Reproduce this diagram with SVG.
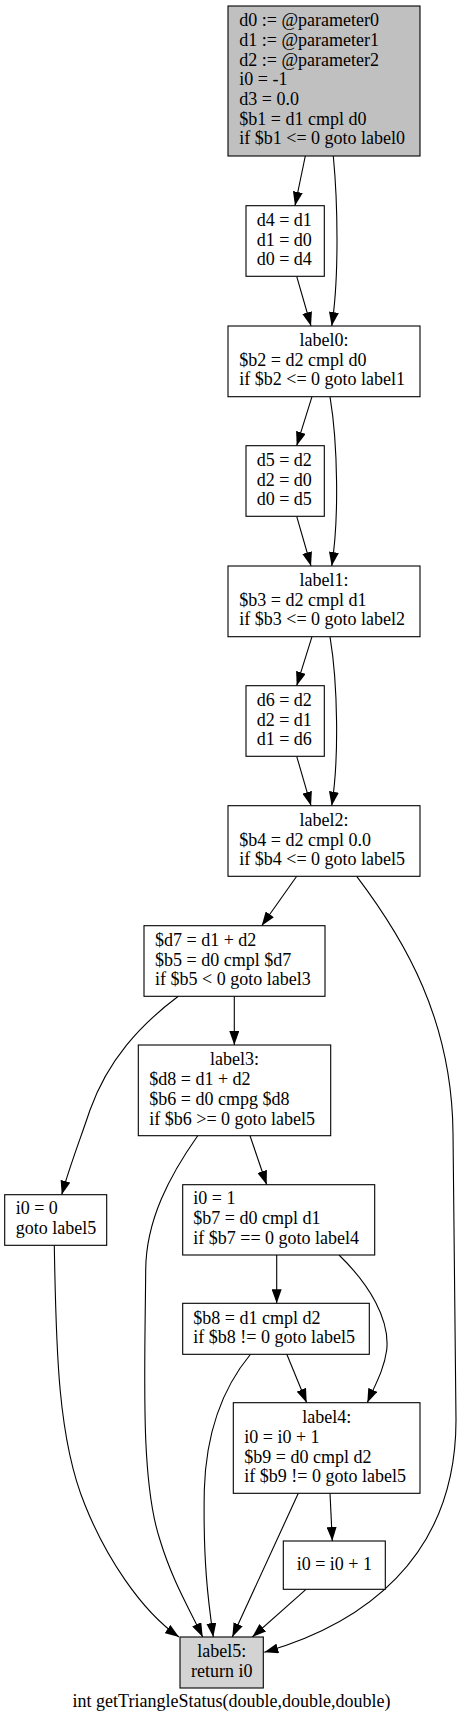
<svg xmlns="http://www.w3.org/2000/svg" width="463" height="1724" viewBox="0 0 463 1724">
<style>
rect{stroke:#000;stroke-width:1.1;fill:#fff}
text{font-family:"Liberation Serif","Times New Roman",serif;font-size:18px;fill:#000}
.c{text-anchor:middle}
.e path{fill:none;stroke:#000;stroke-width:1.1;marker-end:url(#a)}
</style>
<defs>
<marker id="a" markerUnits="userSpaceOnUse" markerWidth="14" markerHeight="10" refX="14" refY="5" orient="auto">
<path d="M0,0 L14,5 L0,10 z" fill="#000"/>
</marker>
</defs>
<rect x="0" y="0" width="463" height="1724" style="fill:#fff;stroke:none"/>
<g class="e">
<path d="M305.3,156 L295,205.7"/>
<path d="M333.3,156 C338,205 339,280 331.7,326"/>
<path d="M296.7,276.3 L311,326"/>
<path d="M312,396.7 L296.7,445.7"/>
<path d="M330,396.7 C338,445 339,520 331.7,566"/>
<path d="M296.7,516.3 L311,566"/>
<path d="M312,636.7 L296.7,685.7"/>
<path d="M330,636.7 C338,685 339,760 331.7,805.7"/>
<path d="M296.7,756.3 L311,805.7"/>
<path d="M296.7,876.3 L261.7,925.7"/>
<path d="M356.7,876.3 C405,940 452,1020 453,1133 L456,1420 C456,1560 360,1625 264.3,1652.3"/>
<path d="M234.3,996.3 L234.3,1045"/>
<path d="M178.3,996.3 C140,1025 108,1060 90,1110 C80,1140 70,1165 61.7,1194.7"/>
<path d="M250,1135.7 L266.7,1184.7"/>
<path d="M197.7,1135.7 C170,1175 146,1220 145.7,1270 C145,1370 140,1480 160,1540 C172,1580 190,1610 202.7,1637"/>
<path d="M276.7,1255 L276.7,1303.3"/>
<path d="M339,1255 C370,1285 390,1320 386.7,1350 C384,1370 375,1385 367.3,1402.7"/>
<path d="M286.7,1354 L306.7,1402.7"/>
<path d="M250.7,1354 C225,1385 206,1430 204.3,1490 C203,1560 208,1600 213.3,1637"/>
<path d="M54.3,1245.3 C56,1350 58,1440 85,1505 C105,1555 140,1610 179,1637"/>
<path d="M298.3,1493.3 L232.3,1637"/>
<path d="M330,1493.3 L332.3,1541"/>
<path d="M306,1589.3 L252.3,1637"/>
</g>
<g id="n0">
<rect x="228" y="6" width="192" height="150" style="fill:#c0c0c0"/>
<text x="239.3" y="26">d0 := @parameter0</text>
<text x="239.3" y="45.7">d1 := @parameter1</text>
<text x="239.3" y="65.5">d2 := @parameter2</text>
<text x="239.3" y="85">i0 = -1</text>
<text x="239.3" y="105">d3 = 0.0</text>
<text x="239.3" y="124.5">$b1 = d1 cmpl d0</text>
<text x="239.3" y="144">if $b1 &lt;= 0 goto label0</text>
</g>
<g id="n1">
<rect x="246" y="205.7" width="78.3" height="70.6"/>
<text x="256.7" y="226">d4 = d1</text>
<text x="256.7" y="245.7">d1 = d0</text>
<text x="256.7" y="265">d0 = d4</text>
</g>
<g id="n2">
<rect x="228" y="326" width="192" height="70.7"/>
<text x="324" y="345.7" class="c">label0:</text>
<text x="239.3" y="365.7">$b2 = d2 cmpl d0</text>
<text x="239.3" y="385">if $b2 &lt;= 0 goto label1</text>
</g>
<g id="n3">
<rect x="246" y="445.7" width="78.3" height="70.6"/>
<text x="256.7" y="466">d5 = d2</text>
<text x="256.7" y="485.7">d2 = d0</text>
<text x="256.7" y="505">d0 = d5</text>
</g>
<g id="n4">
<rect x="228" y="566" width="192" height="70.7"/>
<text x="324" y="585.7" class="c">label1:</text>
<text x="239.3" y="605.7">$b3 = d2 cmpl d1</text>
<text x="239.3" y="625">if $b3 &lt;= 0 goto label2</text>
</g>
<g id="n5">
<rect x="246" y="685.7" width="78.3" height="70.6"/>
<text x="256.7" y="706">d6 = d2</text>
<text x="256.7" y="725.7">d2 = d1</text>
<text x="256.7" y="745">d1 = d6</text>
</g>
<g id="n6">
<rect x="228" y="805.7" width="192" height="70.6"/>
<text x="324" y="825.7" class="c">label2:</text>
<text x="239.3" y="845.7">$b4 = d2 cmpl 0.0</text>
<text x="239.3" y="865">if $b4 &lt;= 0 goto label5</text>
</g>
<g id="n7">
<rect x="144" y="925.7" width="181" height="70.6"/>
<text x="155" y="945.7">$d7 = d1 + d2</text>
<text x="155" y="965.5">$b5 = d0 cmpl $d7</text>
<text x="155" y="985">if $b5 &lt; 0 goto label3</text>
</g>
<g id="n8">
<rect x="138.3" y="1045" width="192.4" height="90.7"/>
<text x="234.5" y="1065" class="c">label3:</text>
<text x="149.3" y="1085">$d8 = d1 + d2</text>
<text x="149.3" y="1105">$b6 = d0 cmpg $d8</text>
<text x="149.3" y="1125">if $b6 &gt;= 0 goto label5</text>
</g>
<g id="n9">
<rect x="4.7" y="1194.7" width="102" height="50.6"/>
<text x="15.7" y="1214.3">i0 = 0</text>
<text x="15.7" y="1234.3">goto label5</text>
</g>
<g id="n10">
<rect x="182.7" y="1184.7" width="192" height="70.3"/>
<text x="193.3" y="1204.3">i0 = 1</text>
<text x="193.3" y="1224.3">$b7 = d0 cmpl d1</text>
<text x="193.3" y="1244.3">if $b7 == 0 goto label4</text>
</g>
<g id="n11">
<rect x="182.7" y="1303.3" width="186.6" height="51"/>
<text x="193.3" y="1324">$b8 = d1 cmpl d2</text>
<text x="193.3" y="1343.3">if $b8 != 0 goto label5</text>
</g>
<g id="n12">
<rect x="233.3" y="1402.7" width="186.7" height="90.6"/>
<text x="326.7" y="1422.7" class="c">label4:</text>
<text x="244.3" y="1442.7">i0 = i0 + 1</text>
<text x="244.3" y="1462.7">$b9 = d0 cmpl d2</text>
<text x="244.3" y="1482.3">if $b9 != 0 goto label5</text>
</g>
<g id="n13">
<rect x="283.3" y="1541" width="102" height="48.3"/>
<text x="334.3" y="1570" class="c">i0 = i0 + 1</text>
</g>
<g id="n14">
<rect x="180" y="1637" width="83.3" height="51" style="fill:#d3d3d3"/>
<text x="221.7" y="1657.3" class="c">label5:</text>
<text x="221.7" y="1677.3" class="c">return i0</text>
</g>
<text x="231.5" y="1707.3" class="c">int getTriangleStatus(double,double,double)</text>
</svg>
